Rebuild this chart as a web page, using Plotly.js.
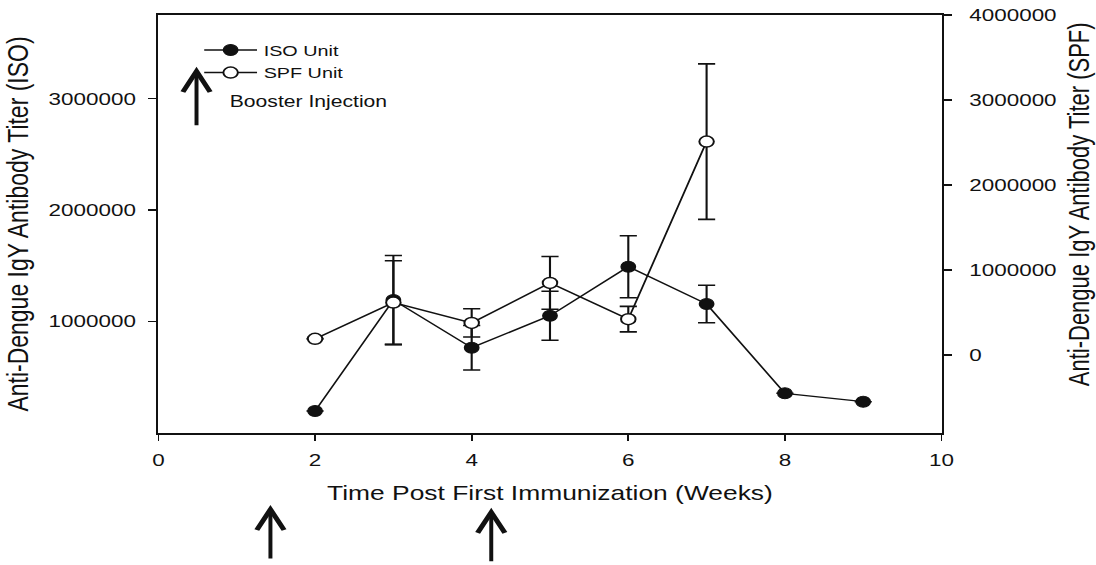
<!DOCTYPE html>
<html>
<head>
<meta charset="utf-8">
<script src="https://cdn.plot.ly/plotly-3.0.1.min.js"></script>
<style>
  html, body { margin: 0; padding: 0; background: #fff; overflow: hidden; }
  #wrap { width: 1096px; height: 565px; overflow: hidden; }
  #chart { width: 830px; height: 565px; transform: scaleX(1.3205); transform-origin: 0 0; }
</style>
</head>
<body>
<div id="wrap"><div id="chart"></div></div>
<script>
// ---- data ----
var isoWeeks = [2, 3, 4, 5, 6, 7, 8, 9];
var isoTiter = [197000, 1193000, 765000, 1052000, 1492000, 1157000, 356000, 281000];
var isoSD    = [null, 400000, 200000, 220000, 278000, 168000, null, null];

var spfWeeks = [2, 3, 4, 5, 6, 7];
var spfTiter = [188000, 615000, 376000, 847000, 420000, 2510000];
var spfSD    = [null, 492000, 166000, 310000, 150000, 915000];

var boosterWeeks = [1.43, 4.25];

var xTickVals = [0, 2, 4, 6, 8, 10];
var yLeftTicks = [1000000, 2000000, 3000000];
var yRightTicks = [0, 1000000, 2000000, 3000000, 4000000];

var FONT = "Arial, 'Liberation Sans', sans-serif";
var INK = '#111';

var traces = [
  {
    x: isoWeeks, y: isoTiter, name: 'ISO Unit', yaxis: 'y',
    type: 'scatter', mode: 'lines+markers',
    line: {color: INK, width: 1.4},
    marker: {symbol: 'circle', size: 11, color: INK, line: {color: INK, width: 1}},
    error_y: {type: 'data', array: isoSD, visible: true, color: INK, thickness: 1.6, width: 6.5}
  },
  {
    x: spfWeeks, y: spfTiter, name: 'SPF Unit', yaxis: 'y2',
    type: 'scatter', mode: 'lines+markers',
    line: {color: INK, width: 1.4},
    marker: {symbol: 'circle', size: 11, color: '#fff', line: {color: INK, width: 1.5}},
    error_y: {type: 'data', array: spfSD, visible: true, color: INK, thickness: 1.6, width: 6.5}
  }
];

var annotations = [
  {xref: 'paper', yref: 'paper', x: 0.088, y: 0.792, xanchor: 'left', yanchor: 'middle',
   text: 'Booster Injection', showarrow: false, font: {family: FONT, size: 16, color: INK}},
  {xref: 'paper', yref: 'paper', x: 0.0486, y: 0.876, text: '', showarrow: true,
   arrowhead: 5, arrowsize: 1.35, arrowwidth: 3, arrowcolor: INK, ax: 0, ay: 60, standoff: 0},
  {xref: 'paper', yref: 'paper', x: 1.176, y: 0.548, xanchor: 'center', yanchor: 'middle',
   textangle: -90, text: 'Anti-Dengue IgY Antibody Titer (SPF)', showarrow: false,
   font: {family: FONT, size: 22, color: INK}}
];
boosterWeeks.forEach(function (w, i) {
  annotations.push({xref: 'x', yref: 'paper', x: w, y: (i === 0 ? -0.172 : -0.179), text: '',
    showarrow: true, arrowhead: 5, arrowsize: 1.35, arrowwidth: 3, arrowcolor: INK,
    ax: 0, ay: 55, standoff: 0});
});

var layout = {
  width: 830, height: 565,
  margin: {l: 119.6, r: 117.4, t: 15, b: 132},
  paper_bgcolor: '#fff', plot_bgcolor: '#fff',
  font: {family: FONT, color: INK, size: 16},
  showlegend: true,
  legend: {x: 0.05, y: 0.955, xanchor: 'left', yanchor: 'top', bgcolor: 'rgba(0,0,0,0)',
           font: {family: FONT, size: 15, color: INK}, tracegroupgap: 0, itemwidth: 40},
  xaxis: {
    range: [0, 10], tickvals: xTickVals, showgrid: false, zeroline: false,
    showline: true, linecolor: INK, linewidth: 1.6, mirror: true,
    ticks: 'outside', ticklen: 6, tickwidth: 1.4, tickcolor: INK, ticklabelstandoff: 5,
    tickfont: {family: FONT, size: 17, color: INK},
    title: {text: 'Time Post First Immunization (Weeks)', font: {family: FONT, size: 20, color: INK}, standoff: 17}
  },
  yaxis: {
    range: [0, 3750000], tickvals: yLeftTicks, tickformat: 'd', showgrid: false, zeroline: false,
    showline: true, linecolor: INK, linewidth: 1.6,
    ticks: 'outside', ticklen: 6, tickwidth: 1.4, tickcolor: INK, ticklabelstandoff: 6,
    tickfont: {family: FONT, size: 17, color: INK},
    title: {text: 'Anti-Dengue IgY Antibody Titer (ISO)', font: {family: FONT, size: 23, color: INK}, standoff: 12}
  },
  yaxis2: {
    overlaying: 'y', side: 'right',
    range: [-920000, 4000000], tickvals: yRightTicks, tickformat: 'd', showgrid: false, zeroline: false,
    showline: true, linecolor: INK, linewidth: 1.6,
    ticks: 'outside', ticklen: 6, tickwidth: 1.4, tickcolor: INK, ticklabelstandoff: 10,
    tickfont: {family: FONT, size: 17, color: INK}
  },
  annotations: annotations
};

Plotly.newPlot('chart', traces, layout, {displayModeBar: false, staticPlot: true});
</script>
</body>
</html>
